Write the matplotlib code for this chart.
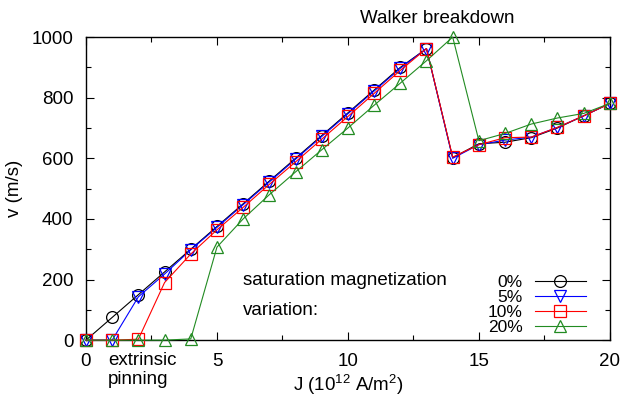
import numpy as np
import matplotlib.pyplot as plt
from matplotlib.ticker import MultipleLocator

plt.rcParams['font.family'] = ['Liberation Sans', 'DejaVu Sans']
plt.rcParams['mathtext.fontset'] = 'custom'
plt.rcParams['mathtext.rm'] = 'Liberation Sans'

J = np.arange(0, 21)

v_0 = [0, 75, 150, 225, 300, 375, 450, 525, 600, 675, 750, 825, 900, 962,
       602, 648, 653, 668, 700, 740, 781]
v_5 = [0, 0, 143, 218, 298, 372, 447, 522, 597, 672, 747, 822, 897, 962,
       600, 645, 660, 670, 702, 740, 781]
v_10 = [0, 0, 3, 190, 284, 364, 438, 514, 588, 663, 738, 814, 890, 962,
        604, 645, 668, 670, 702, 740, 781]
v_20 = [0, 0, 0, 0, 4, 307, 400, 480, 555, 628, 700, 775, 848, 922,
        1000, 658, 682, 713, 733, 748, 781]

series = [v_0, v_5, v_10, v_20]
labels = ['0%', '5%', '10%', '20%']
colors = ['black', 'blue', 'red', '#228b22']
markers = ['o', 'v', 's', '^']

fs = 13.5
fig = plt.figure(figsize=(6.3, 4.03), dpi=100)
ax = fig.add_axes([0.1365, 0.156, 0.8315, 0.752])

for v, lab, c, m in zip(series, labels, colors, markers):
    ax.plot(J, v, color=c, marker=m, markersize=8.5, markerfacecolor='none',
            markeredgecolor=c, markeredgewidth=0.9, linewidth=0.8, label=lab,
            clip_on=False, zorder=3)

ax.set_xlim(0, 20)
ax.set_ylim(0, 1000)
ax.xaxis.set_major_locator(MultipleLocator(5))
ax.xaxis.set_minor_locator(MultipleLocator(2.5))
ax.yaxis.set_major_locator(MultipleLocator(200))
ax.yaxis.set_minor_locator(MultipleLocator(100))
ax.tick_params(which='both', direction='in', top=True, right=True,
               labelsize=fs, width=0.8)
ax.tick_params(which='major', length=6, pad=9)
ax.tick_params(which='minor', length=3.5)
for s in ax.spines.values():
    s.set_linewidth(1.0)

ax.set_xlabel('J (10$^{12}$ A/m$^2$)', fontsize=fs, labelpad=2)
ax.set_ylabel('v (m/s)', fontsize=fs, labelpad=6)

ax.text(13.4, 1062, 'Walker breakdown', ha='center', va='center', fontsize=fs,
        clip_on=False)
ax.text(6.0, 198, 'saturation magnetization', ha='left', va='center', fontsize=fs)
ax.text(6.0, 99, 'variation:', ha='left', va='center', fontsize=fs)
ax.text(0.85, -97, 'extrinsic\npinning', ha='left', va='center', fontsize=fs,
        linespacing=1.15, clip_on=False)

ax.legend(loc='lower right', bbox_to_anchor=(0.954, 0.016), frameon=False,
          markerfirst=False, fontsize=12.5, handlelength=2.95, handletextpad=0.7,
          labelspacing=0.0, borderpad=0, borderaxespad=0)

fig.savefig('out.png', dpi=100)
